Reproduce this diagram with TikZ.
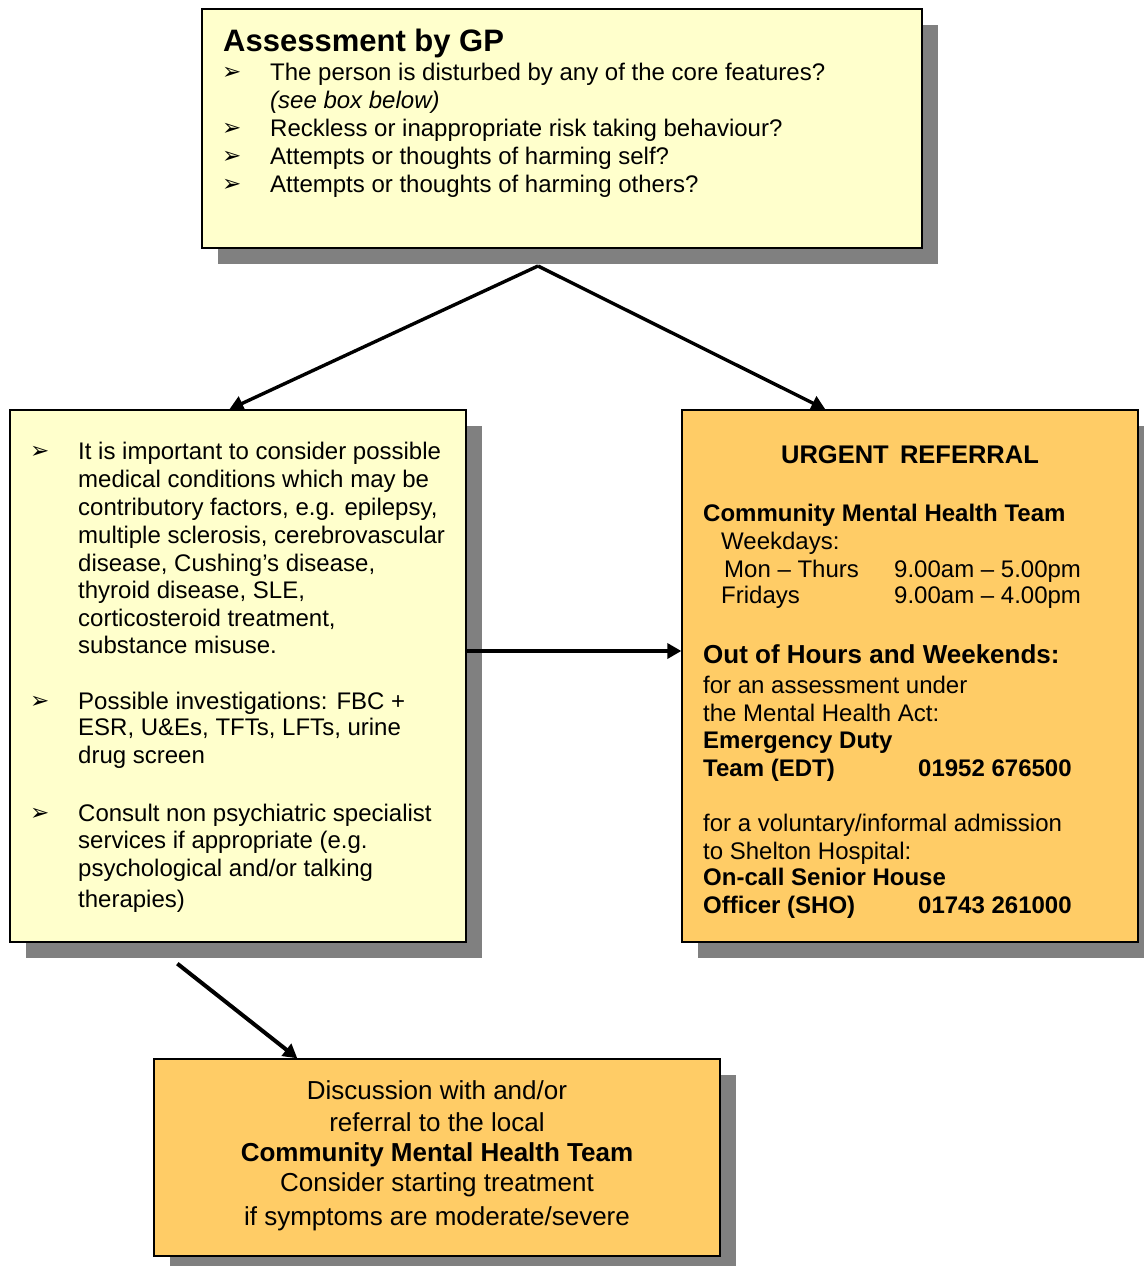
\documentclass[tikz,border=0pt]{standalone}
\usepackage{fontspec}
\setmainfont{Liberation Sans}
\newfontfamily\dv{DejaVu Sans}
\usetikzlibrary{arrows.meta,shadows,calc}
\definecolor{paleyel}{HTML}{FFFFCC}
\definecolor{orng}{HTML}{FFCC66}
\definecolor{shad}{HTML}{808080}
\begin{document}
\begin{tikzpicture}[x=1pt,y=-1pt,
  box/.style={draw=black, line width=1.3pt, inner sep=0pt,
    drop shadow={shadow xshift=16pt, shadow yshift=-16pt, fill=shad, opacity=1}},
  arr/.style={line width=3.4pt, -{Triangle[length=14pt,width=15pt]}},
  txt/.style={anchor=base west, inner sep=0pt, font=\fontsize{24}{28}\selectfont},
  btxt/.style={txt, font=\fontsize{24}{28}\selectfont\bfseries},
  ctxt/.style={anchor=base, inner sep=0pt, font=\fontsize{26}{30}\selectfont},
  bul/.style={anchor=base west, inner sep=0pt, font=\dv\fontsize{23}{26}\selectfont}]
\useasboundingbox (0,0) rectangle (1143,1266);

% boxes
\node[box, fill=paleyel, minimum width=720pt, minimum height=239pt] (gp) at (562,128.5) {};
\node[box, fill=paleyel, minimum width=456pt, minimum height=532pt] (lb) at (238,676) {};
\node[box, fill=orng, minimum width=456pt, minimum height=532pt] (rb) at (910,676) {};
\node[box, fill=orng, minimum width=566pt, minimum height=197pt] (bb) at (437,1157.5) {};

% connectors
\coordinate (split) at (538,266);
\draw[arr] (split) -- ([xshift=220pt]lb.north west);
\draw[arr] (split) -- ([xshift=144pt]rb.north west);
\draw[arr] ([yshift=25pt]lb.east) -- ([yshift=25pt]rb.west);
\draw[arr, line width=4pt] ([xshift=168pt,yshift=-21pt]lb.south west) -- ([xshift=144pt]bb.north west);

% top box text
\node[anchor=base west, inner sep=0pt, font=\fontsize{31}{34}\selectfont\bfseries] (gptitle) at (223,51) {Assessment by GP};
\foreach \y/\s [count=\i] in {80/{The person is disturbed by any of the core features?},
  136/{Reckless or inappropriate risk taking behaviour?},
  164/{Attempts or thoughts of harming self?},
  192/{Attempts or thoughts of harming others?}}{
  \node[bul] (gpb\i) at (222,\y-1) {➢};
  \node[txt] (gpt\i) at (270,\y) {\s};
}
\node[txt, font=\fontsize{24}{28}\selectfont\itshape] (gpsee) at (270,108) {(see box below)};

% left box text
\foreach \y/\s [count=\i] in {459/{It is important to consider possible},
  487/{medical conditions which may be},
  515/{contributory factors, e.g. epilepsy,},
  543/{multiple sclerosis, cerebrovascular},
  571/{disease, Cushing’s disease,},
  598/{thyroid disease, SLE,},
  626/{corticosteroid treatment,},
  653/{substance misuse.},
  709/{Possible investigations: FBC +},
  735/{ESR, U\&Es, TFTs, LFTs, urine},
  763/{drug screen},
  821/{Consult non psychiatric specialist},
  848/{services if appropriate (e.g.},
  876/{psychological and/or talking},
  907/{therapies)}}{
  \node[txt] (lt\i) at (78,\y) {\s};
}
\node[bul] (lb1) at (30,458) {➢};
\node[bul] (lb2) at (30,708) {➢};
\node[bul] (lb3) at (30,820) {➢};

% right box text
\node[anchor=base, inner sep=0pt, font=\fontsize{25.5}{28}\selectfont\bfseries] (urg) at (910,463) {URGENT\ \,REFERRAL};
\node[btxt] (r1) at (703,521) {Community Mental Health Team};
\node[txt] (r2) at (721,549) {Weekdays:};
\node[txt] (r3) at (724,577) {Mon – Thurs};
\node[txt] (r3b) at (894,577) {9.00am – 5.00pm};
\node[txt] (r4) at (721,603) {Fridays};
\node[txt] (r4b) at (894,603) {9.00am – 4.00pm};
\node[anchor=base west, inner sep=0pt, font=\fontsize{26}{30}\selectfont\bfseries] (r5) at (703,663) {Out of Hours and Weekends:};
\node[txt] (r6) at (703,693) {for an assessment under};
\node[txt] (r7) at (703,721) {the Mental Health Act:};
\node[btxt] (r8) at (703,748) {Emergency Duty};
\node[btxt] (r9) at (703,776) {Team (EDT)};
\node[btxt] (r9b) at (918,776) {01952 676500};
\node[txt] (r10) at (703,831) {for a voluntary/informal admission};
\node[txt] (r11) at (703,859) {to Shelton Hospital:};
\node[btxt] (r12) at (703,885) {On-call Senior House};
\node[btxt] (r13) at (703,913) {Officer (SHO)};
\node[btxt] (r13b) at (918,913) {01743 261000};

% bottom box text
\node[ctxt] (b1) at (437,1099) {Discussion with and/or};
\node[ctxt] (b2) at (437,1131) {referral to the local};
\node[ctxt, font=\fontsize{26}{30}\selectfont\bfseries] (b3) at (437,1161) {Community Mental Health Team};
\node[ctxt] (b4) at (437,1191) {Consider starting treatment};
\node[ctxt] (b5) at (437,1225) {if symptoms are moderate/severe};
\end{tikzpicture}
\end{document}
